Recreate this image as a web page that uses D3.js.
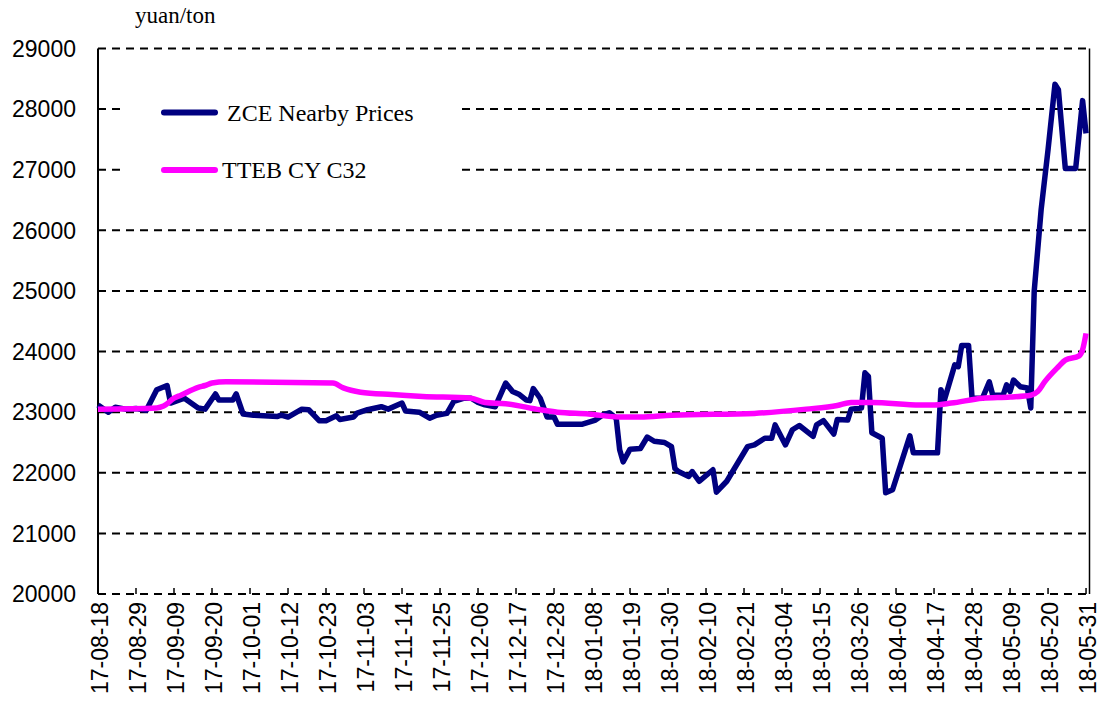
<!DOCTYPE html>
<html>
<head>
<meta charset="utf-8">
<script src="https://cdn.jsdelivr.net/npm/d3@7"></script>
<style>
  body { margin: 0; background: #fff; }
  svg { display: block; }
</style>
</head>
<body>
<svg width="1105" height="702"></svg>
<script>
// ZCE nearby cotton yarn price vs TTEB CY C32, yuan/ton

var zceDates = [
  "17-08-18","17-08-21","17-08-23","17-08-26","17-08-29","17-09-01","17-09-04","17-09-07","17-09-08","17-09-12",
  "17-09-16","17-09-18","17-09-21","17-09-22","17-09-26","17-09-27","17-09-29","17-10-02","17-10-09","17-10-10",
  "17-10-12","17-10-16","17-10-18","17-10-21","17-10-23","17-10-26","17-10-27","17-10-31","17-11-01","17-11-04",
  "17-11-08","17-11-10","17-11-14","17-11-15","17-11-19","17-11-22","17-11-24","17-11-27","17-11-29","17-12-02",
  "17-12-04","17-12-06","17-12-08","17-12-11","17-12-14","17-12-16","17-12-18","17-12-20","17-12-21","17-12-22",
  "17-12-24","17-12-26","17-12-28","17-12-29","18-01-05","18-01-09","18-01-11","18-01-13","18-01-15","18-01-16",
  "18-01-17","18-01-19","18-01-22","18-01-24","18-01-26","18-01-29","18-01-31","18-02-01","18-02-02","18-02-05",
  "18-02-06","18-02-08","18-02-12","18-02-13","18-02-16","18-02-22","18-02-24","18-02-27","18-03-01","18-03-02",
  "18-03-05","18-03-07","18-03-09","18-03-13","18-03-14","18-03-16","18-03-19","18-03-20","18-03-23","18-03-24",
  "18-03-27","18-03-28","18-03-29","18-03-30","18-04-02","18-04-03","18-04-05","18-04-10","18-04-11","18-04-18",
  "18-04-19","18-04-20","18-04-23","18-04-24","18-04-25","18-04-27","18-04-28","18-05-01","18-05-03","18-05-04",
  "18-05-07","18-05-08","18-05-09","18-05-10","18-05-12","18-05-14","18-05-15","18-05-16","18-05-18","18-05-20",
  "18-05-22","18-05-23","18-05-25","18-05-28","18-05-30","18-05-31"
];
var zceValues = [
  23120,23000,23080,23050,23060,23030,23370,23440,23150,23230,
  23070,23050,23300,23200,23200,23300,22970,22950,22930,22950,
  22920,23050,23040,22860,22860,22940,22880,22920,22985,23040,
  23090,23050,23150,23020,23000,22900,22950,22980,23180,23230,
  23230,23160,23120,23090,23480,23340,23290,23200,23190,23390,
  23230,22920,22920,22800,22800,22870,22950,22990,22900,22380,
  22180,22390,22400,22590,22520,22500,22430,22070,22020,21940,
  22020,21860,22050,21680,21860,22430,22460,22570,22570,22790,
  22460,22710,22780,22600,22790,22860,22640,22880,22870,23050,
  23070,23650,23590,22660,22570,21670,21720,22610,22330,22330,
  23370,23200,23780,23750,24100,24100,23230,23230,23500,23280,
  23280,23450,23340,23530,23420,23400,23070,25000,26340,27330,
  28410,28320,27020,27020,28140,27600
];

var ttebDates = [
  "17-08-18","17-09-04","17-09-06","17-09-09","17-09-11","17-09-16","17-09-18","17-09-20","17-09-24","17-10-25",
  "17-10-28","17-11-02","17-11-11","17-11-20","17-12-04","17-12-08","17-12-14","17-12-24","17-12-29","18-01-07",
  "18-01-16","18-01-22","18-01-31","18-02-24","18-03-11","18-03-20","18-03-24","18-03-30","18-04-13","18-04-17",
  "18-04-22","18-05-01","18-05-09","18-05-15","18-05-17","18-05-19","18-05-23","18-05-25","18-05-29","18-05-30",
  "18-05-31"
];
var ttebValues = [
  23050,23070,23100,23230,23280,23410,23440,23480,23500,23480,
  23400,23330,23290,23260,23230,23160,23140,23040,23000,22970,
  22920,22920,22950,22980,23050,23110,23160,23160,23120,23120,
  23150,23230,23250,23280,23340,23500,23750,23860,23930,24030,
  24300
];

var xTickLabels = [
  "17-08-18","17-08-29","17-09-09","17-09-20","17-10-01","17-10-12","17-10-23","17-11-03","17-11-14",
  "17-11-25","17-12-06","17-12-17","17-12-28","18-01-08","18-01-19","18-01-30","18-02-10","18-02-21",
  "18-03-04","18-03-15","18-03-26","18-04-06","18-04-17","18-04-28","18-05-09","18-05-20","18-05-31"
];
var yTicks = [20000,21000,22000,23000,24000,25000,26000,27000,28000,29000];

var seriesNames = ["ZCE Nearby Prices", "TTEB CY C32"];
var seriesColors = ["#000080", "#ff00ff"];

var svg = d3.select("svg"),
    plotLeft = 98, plotRight = 1089.5, plotTop = 48.5, plotBottom = 594;

var parseDate = d3.timeParse("%y-%m-%d");

var x = d3.scaleTime()
    .domain([parseDate("17-08-18"), parseDate("18-06-01")])
    .range([plotLeft, plotRight]);

var y = d3.scaleLinear()
    .domain([20000, 29000])
    .range([plotBottom, plotTop]);

svg.append("rect").attr("width", 1105).attr("height", 702).attr("fill", "#fff");

// dashed gridlines
svg.append("g")
  .selectAll("line")
  .data(yTicks)
  .enter().append("line")
    .attr("x1", plotLeft).attr("x2", plotRight)
    .attr("y1", function(d) { return y(d); })
    .attr("y2", function(d) { return y(d); })
    .attr("stroke", "#000")
    .attr("stroke-width", 2)
    .attr("stroke-dasharray", "8,6");

// y tick labels
svg.append("g")
  .selectAll("text")
  .data(yTicks)
  .enter().append("text")
    .attr("x", 76)
    .attr("y", function(d) { return y(d); })
    .attr("dy", "0.36em")
    .attr("text-anchor", "end")
    .style("font-family", "Liberation Sans, Arial, sans-serif")
    .style("font-size", "23px")
    .text(function(d) { return d; });

// x ticks (pointing up) and rotated labels
var xt = svg.append("g");
xt.selectAll("line")
  .data(xTickLabels)
  .enter().append("line")
    .attr("x1", function(d) { return x(parseDate(d)); })
    .attr("x2", function(d) { return x(parseDate(d)); })
    .attr("y1", plotBottom).attr("y2", plotBottom - 6)
    .attr("stroke", "#000")
    .attr("stroke-width", 1.5);

xt.selectAll("text")
  .data(xTickLabels)
  .enter().append("text")
    .attr("transform", function(d) {
      return "translate(" + (x(parseDate(d)) + 2) + "," + 602 + ") rotate(-90)";
    })
    .attr("dy", "0.36em")
    .attr("text-anchor", "end")
    .style("font-family", "Liberation Sans, Arial, sans-serif")
    .style("font-size", "23px")
    .text(function(d) { return d; });

// solid left/right frame
svg.append("line")
    .attr("x1", plotLeft).attr("x2", plotLeft).attr("y1", plotTop).attr("y2", plotBottom)
    .attr("stroke", "#000").attr("stroke-width", 2);
svg.append("line")
    .attr("x1", plotRight).attr("x2", plotRight).attr("y1", plotTop).attr("y2", plotBottom)
    .attr("stroke", "#000").attr("stroke-width", 1.5);

// unit label
svg.append("text")
    .attr("x", 135).attr("y", 23)
    .style("font-family", "Liberation Serif, Times New Roman, serif")
    .style("font-size", "23px")
    .text("yuan/ton");

// legend box hides the gridlines behind it
svg.append("rect")
    .attr("x", 120).attr("y", 62)
    .attr("width", 342).attr("height", 150)
    .attr("fill", "#fff");

var legendY = [112.5, 170];
var legendTextX = [227, 222];
var lg = svg.append("g");
lg.selectAll("line")
  .data(seriesNames)
  .enter().append("line")
    .attr("x1", 164).attr("x2", 215)
    .attr("y1", function(d, i) { return legendY[i]; })
    .attr("y2", function(d, i) { return legendY[i]; })
    .attr("stroke", function(d, i) { return seriesColors[i]; })
    .attr("stroke-width", 6)
    .attr("stroke-linecap", "round");
lg.selectAll("text")
  .data(seriesNames)
  .enter().append("text")
    .attr("x", function(d, i) { return legendTextX[i]; })
    .attr("y", function(d, i) { return legendY[i] + 8; })
    .style("font-family", "Liberation Serif, Times New Roman, serif")
    .style("font-size", "24px")
    .text(function(d) { return d; });

// series lines
var valueline = d3.line()
    .x(function(d) { return x(d.date); })
    .y(function(d) { return y(d.value); });

var zce = zceDates.map(function(d, i) { return {date: parseDate(d), value: zceValues[i]}; });
var tteb = ttebDates.map(function(d, i) { return {date: parseDate(d), value: ttebValues[i]}; });

svg.append("path")
    .datum(zce)
    .attr("d", valueline)
    .attr("fill", "none")
    .attr("stroke", seriesColors[0])
    .attr("stroke-width", 5.5)
    .attr("stroke-linejoin", "round");

svg.append("path")
    .datum(tteb)
    .attr("d", valueline.curve(d3.curveMonotoneX))
    .attr("fill", "none")
    .attr("stroke", seriesColors[1])
    .attr("stroke-width", 5.5)
    .attr("stroke-linejoin", "round");
</script>
</body>
</html>
